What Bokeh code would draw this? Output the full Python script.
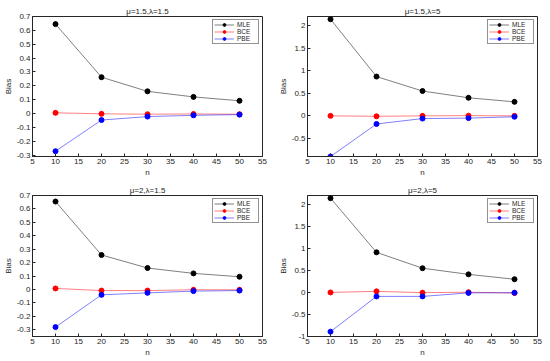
from bokeh.plotting import figure
from bokeh.layouts import gridplot
from bokeh.models import FixedTicker, CustomJSTickFormatter, Range1d
from bokeh.embed import file_html
from bokeh.resources import INLINE

n = [10, 20, 30, 40, 50]

titles = ["μ=1.5,λ=1.5", "μ=1.5,λ=5", "μ=2,λ=1.5", "μ=2,λ=5"]

mle_1 = [0.645, 0.262, 0.160, 0.120, 0.092]
bce_1 = [0.005, -0.002, -0.005, -0.003, -0.005]
pbe_1 = [-0.272, -0.047, -0.022, -0.013, -0.008]

mle_2 = [2.14, 0.87, 0.55, 0.40, 0.31]
bce_2 = [0.0, -0.01, 0.0, 0.005, 0.0]
pbe_2 = [-0.90, -0.18, -0.06, -0.05, -0.02]

mle_3 = [0.655, 0.257, 0.160, 0.120, 0.095]
bce_3 = [0.008, -0.008, -0.008, -0.002, -0.002]
pbe_3 = [-0.280, -0.040, -0.025, -0.012, -0.008]

mle_4 = [2.14, 0.91, 0.55, 0.41, 0.30]
bce_4 = [0.0, 0.025, -0.005, 0.005, -0.015]
pbe_4 = [-0.89, -0.09, -0.09, -0.01, -0.005]

x_ticks = [5, 10, 15, 20, 25, 30, 35, 40, 45, 50, 55]
y_ticks_small = [-0.3, -0.2, -0.1, 0, 0.1, 0.2, 0.3, 0.4, 0.5, 0.6, 0.7]
y_ticks_2 = [-0.5, 0, 0.5, 1, 1.5, 2]
y_ticks_4 = [-1, -0.5, 0, 0.5, 1, 1.5, 2]

y_ranges = [(-0.31, 0.7), (-0.9, 2.2), (-0.35, 0.7), (-1.0, 2.2)]
y_ticks = [y_ticks_small, y_ticks_2, y_ticks_small, y_ticks_4]
series = [(mle_1, bce_1, pbe_1), (mle_2, bce_2, pbe_2), (mle_3, bce_3, pbe_3), (mle_4, bce_4, pbe_4)]

FONT = "Liberation Sans"
AX = "#262626"
fmt_code = "var s = tick.toFixed(1); if (s.endsWith('.0')) s = s.slice(0, -2); if (s == '-0') s = '0'; return s;"


def make(i, width, height, top, left, right, bottom):
    p = figure(width=width, height=height, output_backend="svg", toolbar_location=None,
               x_range=Range1d(5, 55), y_range=Range1d(*y_ranges[i]),
               min_border_top=top, min_border_left=left, min_border_right=right,
               min_border_bottom=bottom, title=titles[i])
    p.title.align = "center"
    p.title.text_font = FONT
    p.title.text_font_size = "8px"
    p.title.text_font_style = "normal"
    p.title.text_color = "#222222"
    p.title.standoff = 2
    p.title.offset = 0
    p.grid.visible = False
    p.outline_line_color = AX
    p.outline_line_width = 1
    for ax in (p.xaxis[0], p.yaxis[0]):
        ax.major_tick_in = 3
        ax.major_tick_out = 0
        ax.minor_tick_line_color = None
        ax.axis_line_color = AX
        ax.major_tick_line_color = AX
        ax.major_label_text_font = FONT
        ax.major_label_text_font_size = "8px"
        ax.major_label_text_color = AX
        ax.axis_label_text_font = FONT
        ax.axis_label_text_font_size = "8px"
        ax.axis_label_text_font_style = "normal"
        ax.axis_label_text_color = AX
        ax.major_label_standoff = 2
        ax.axis_label_standoff = 1
        ax.formatter = CustomJSTickFormatter(code=fmt_code)
    p.xaxis[0].ticker = FixedTicker(ticks=x_ticks)
    p.yaxis[0].ticker = FixedTicker(ticks=y_ticks[i])
    p.xaxis[0].axis_label = "n"
    p.yaxis[0].axis_label = "Bias"

    mle, bce, pbe = series[i]
    for vals, col, name in ((mle, "black", "MLE"), (bce, "red", "BCE"), (pbe, "blue", "PBE")):
        p.line(n, vals, line_color=col, line_alpha=0.5, line_width=1, legend_label=name)
        p.scatter(n, vals, size=5, fill_color=col, line_color=col, legend_label=name)

    lg = p.legend[0]
    lg.location = "top_right"
    lg.label_text_font = FONT
    lg.label_text_font_size = "6.5px"
    lg.label_text_color = AX
    lg.label_height = 7
    lg.glyph_height = 7
    lg.glyph_width = 20
    lg.spacing = 0
    lg.padding = 1
    lg.margin = 3
    lg.label_standoff = 3
    lg.border_line_color = AX
    lg.border_line_width = 1
    lg.background_fill_alpha = 1
    return p


p1 = make(0, 275, 179, 16, 30, 13, 16)
p2 = make(1, 273, 179, 16, 32, 11, 16)
p3 = make(2, 275, 180, 16, 30, 13, 18)
p4 = make(3, 273, 180, 16, 32, 11, 18)

grid = gridplot([[p1, p2], [p3, p4]], toolbar_location=None)

open("out.html", "w").write(file_html(grid, INLINE))
